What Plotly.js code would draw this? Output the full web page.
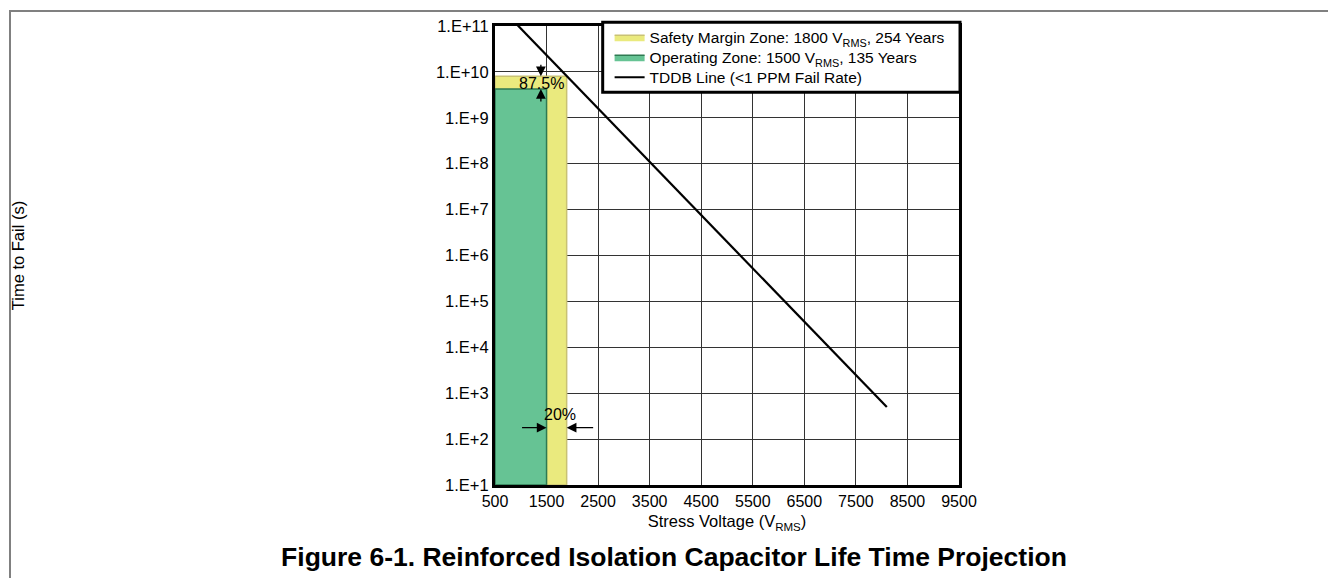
<!DOCTYPE html>
<html>
<head>
<meta charset="utf-8">
<script src="https://cdn.plot.ly/plotly-3.0.1.min.js"></script>
<style>
  html, body { margin: 0; padding: 0; background: #fff; }
  #frame { position: absolute; left: 9px; top: 10px; width: 1330px; height: 580px;
           border-left: 2px solid #808080; border-top: 2px solid #808080; box-sizing: border-box; }
  #chart { position: absolute; left: 0; top: 0; width: 1328px; height: 578px; }
</style>
</head>
<body>
<div id="frame"></div>
<div id="chart"></div>
<script>
// ---- data ----
const voltageTicks = [500, 1500, 2500, 3500, 4500, 5500, 6500, 7500, 8500, 9500];
const decadeExponents = [1, 2, 3, 4, 5, 6, 7, 8, 9, 10, 11];
const decadeLabels = ['1.E+1', '1.E+2', '1.E+3', '1.E+4', '1.E+5', '1.E+6', '1.E+7', '1.E+8', '1.E+9', '1.E+10', '1.E+11'];

const zoneNames = ['Safety Margin Zone: 1800 V<sub>RMS</sub>, 254 Years',
                   'Operating Zone: 1500 V<sub>RMS</sub>, 135 Years'];
const zoneStartV = [500, 500];
const zoneEndV = [1890, 1500];
const zoneLifeYears = [254, 135];
const zoneFill = ['#EAEA7E', '#66C394'];
const zoneEdge = ['#C9C274', '#2F7A52'];

const tddbName = 'TDDB Line (<1 PPM Fail Rate)';
const tddbVoltage = [885, 8100];
const tddbTime = [1.2e11, 5.0e2];

const secondsPerYear = 3.156e7;
const axisFloor = 10;

// ---- traces ----
const legendIds = ['legend', 'legend2', 'legend3'];
const traces = [];
zoneNames.forEach((name, i) => {
  const top = zoneLifeYears[i] * secondsPerYear;
  traces.push({
    type: 'scatter', mode: 'lines', name: name, legend: legendIds[i],
    x: [zoneStartV[i], zoneStartV[i], zoneEndV[i], zoneEndV[i], zoneStartV[i]],
    y: [axisFloor, top, top, axisFloor, axisFloor],
    fill: 'toself', fillcolor: zoneFill[i],
    line: { color: zoneEdge[i], width: 1.5 },
    hoverinfo: 'skip'
  });
});
traces.push({
  type: 'scatter', mode: 'lines', name: tddbName, legend: legendIds[2],
  x: tddbVoltage, y: tddbTime,
  line: { color: '#000', width: 2.2 },
  hoverinfo: 'skip'
});

const safetyTop = zoneLifeYears[0] * secondsPerYear;
const opTop = zoneLifeYears[1] * secondsPerYear;
const arrowStyle = { showarrow: true, arrowhead: 2, arrowsize: 1.5, arrowwidth: 1.3, arrowcolor: '#000', text: '', axref: 'pixel', ayref: 'pixel' };

const font = 'Liberation Sans, Arial, Helvetica, sans-serif';

// one legend per row so the rows sit as close as in the reference; a box is drawn round them
const legendRowY = [0.9745, 0.9309, 0.8874];
function legendAt(i) {
  return {
    x: 0.247, y: legendRowY[i], xanchor: 'left', yanchor: 'middle',
    bgcolor: 'rgba(0,0,0,0)', borderwidth: 0,
    font: { family: font, size: 15.5, color: '#000' },
    itemwidth: 30
  };
}

const layout = {
  width: 1328, height: 578,
  margin: { l: 495, r: 369, t: 26, b: 93 },
  paper_bgcolor: 'rgba(0,0,0,0)', plot_bgcolor: '#fff',
  font: { family: font, size: 16, color: '#000' },
  showlegend: true,
  title: {
    text: '<b>Figure 6-1. Reinforced Isolation Capacitor Life Time Projection</b>',
    font: { family: font, size: 26.5, color: '#000' },
    x: 674 / 1328, xanchor: 'center', xref: 'container',
    y: 1 - 557 / 578, yanchor: 'middle', yref: 'container'
  },
  xaxis: {
    range: [500, 9500], tickvals: voltageTicks, ticktext: voltageTicks.map(String),
    showgrid: true, gridcolor: '#333', gridwidth: 1,
    showline: true, linecolor: '#000', linewidth: 3, mirror: true,
    ticks: '', zeroline: false, fixedrange: true,
    tickfont: { family: font, size: 16 },
    title: { text: 'Stress Voltage (V<sub>RMS</sub>)', font: { family: font, size: 16.5 }, standoff: 7 },
    automargin: true
  },
  yaxis: {
    type: 'log', range: [1, 11],
    tickvals: decadeExponents.map(e => Math.pow(10, e)), ticktext: decadeLabels,
    showgrid: true, gridcolor: '#333', gridwidth: 1,
    showline: true, linecolor: '#000', linewidth: 3, mirror: true,
    ticks: '', zeroline: false, fixedrange: true,
    tickfont: { family: font, size: 16.5 },
    title: { text: 'Time to Fail (s)', font: { family: font, size: 16.5 }, standoff: 408 },
    automargin: true
  },
  legend: legendAt(0),
  legend2: legendAt(1),
  legend3: legendAt(2),
  shapes: [{
    type: 'rect', xref: 'paper', yref: 'paper', layer: 'above',
    x0: 0.2321, x1: 1.0022, y0: 0.8556, y1: 1.008,
    fillcolor: '#fff', line: { color: '#000', width: 3 }
  }],
  annotations: [
    Object.assign({}, arrowStyle, { x: 1390, y: Math.log10(safetyTop), ax: 0, ay: -13 }),
    Object.assign({}, arrowStyle, { x: 1390, y: Math.log10(opTop), ax: 0, ay: 14 }),
    { x: 1400, y: 9.745, text: '87.5%', showarrow: false, font: { family: font, size: 16 } },
    Object.assign({}, arrowStyle, { x: 1500, y: 2.25, ax: -26, ay: 0 }),
    Object.assign({}, arrowStyle, { x: 1890, y: 2.25, ax: 28, ay: 0 }),
    { x: 1760, y: 2.53, text: '20%', showarrow: false, font: { family: font, size: 16 } }
  ]
};

Plotly.newPlot('chart', traces, layout, { staticPlot: true, displayModeBar: false });
</script>
</body>
</html>
